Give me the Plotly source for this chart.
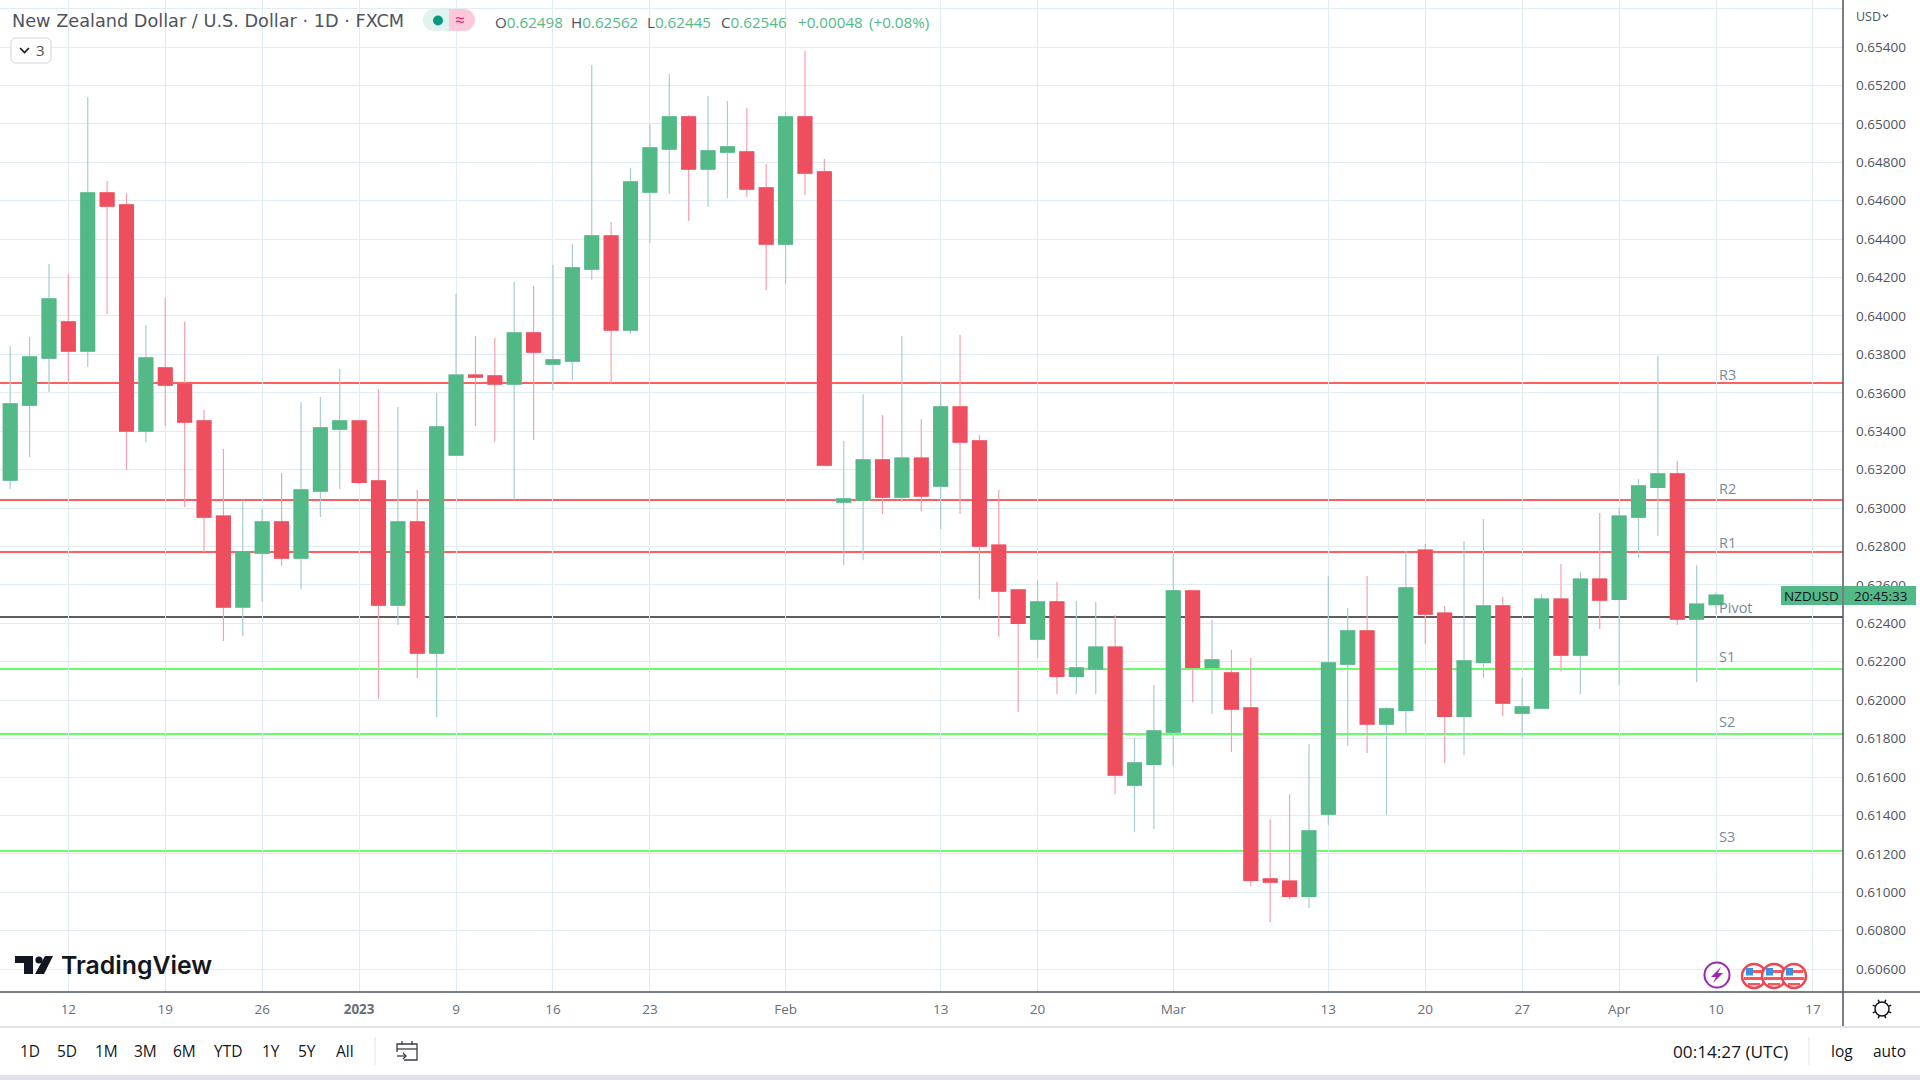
"""NZD/USD daily candles with pivot levels, TradingView style"""
import math
import pandas as pd
import plotly.graph_objects as go

# one row of the chart per weekday, from 7 Dec 2022 to 10 Apr 2023
dates = pd.bdate_range("2022-12-07", "2023-04-10").strftime("%Y-%m-%d").tolist()

opens = [
    0.63146, 0.63536, 0.63781, 0.63968, 0.63817, 0.64640, 0.64578, 0.63401, 0.63729, 0.63646,
    0.63453, 0.62958, 0.62485, 0.62766, 0.62927, 0.62740, 0.63089, 0.63411, 0.63453, 0.63141,
    0.62495, 0.62927, 0.62245, 0.63276, 0.63692, 0.63687, 0.63646, 0.63911, 0.63750, 0.63765,
    0.64244, 0.64416, 0.63927, 0.64645, 0.64869, 0.65036, 0.64765, 0.64853, 0.64853, 0.64666,
    0.64374, 0.65036, 0.64749, 0.63031, 0.63042, 0.63250, 0.63057, 0.63260, 0.63115, 0.63526,
    0.63349, 0.62807, 0.62573, 0.62318, 0.62511, 0.62125, 0.62162, 0.62276, 0.61558, 0.61667,
    0.61834, 0.62568, 0.62172, 0.62141, 0.61959, 0.61069, 0.61058, 0.60980, 0.61407, 0.62188,
    0.62360, 0.61876, 0.61948, 0.62781, 0.62453, 0.61917, 0.62198, 0.62490, 0.61933, 0.61959,
    0.62526, 0.62235, 0.62630, 0.62526, 0.62953, 0.63109, 0.63177, 0.62422, 0.62498,
]
highs = [
    0.63843, 0.63890, 0.64270, 0.64218, 0.65140, 0.64702, 0.64640, 0.63953, 0.64093, 0.63968,
    0.63510, 0.63307, 0.63042, 0.62995, 0.63182, 0.63552, 0.63578, 0.63724, 0.63455, 0.63620,
    0.63526, 0.63094, 0.63599, 0.64114, 0.63896, 0.63885, 0.64177, 0.64156, 0.64265, 0.64374,
    0.65306, 0.64489, 0.64770, 0.64999, 0.65259, 0.65046, 0.65145, 0.65119, 0.65082, 0.64791,
    0.65062, 0.65379, 0.64817, 0.63349, 0.63594, 0.63484, 0.63896, 0.63463, 0.63661, 0.63901,
    0.63380, 0.63094, 0.62573, 0.62625, 0.62615, 0.62516, 0.62511, 0.62443, 0.61803, 0.62079,
    0.62761, 0.62573, 0.62417, 0.62261, 0.62219, 0.61381, 0.61511, 0.61771, 0.62646, 0.62480,
    0.62646, 0.61964, 0.62776, 0.62813, 0.62490, 0.62828, 0.62943, 0.62537, 0.62120, 0.62552,
    0.62709, 0.62667, 0.62974, 0.63000, 0.63151, 0.63791, 0.63245, 0.62703, 0.62562,
]
lows = [
    0.63099, 0.63266, 0.63604, 0.63651, 0.63734, 0.64010, 0.63198, 0.63344, 0.63427, 0.63005,
    0.62771, 0.62308, 0.62334, 0.62511, 0.62698, 0.62578, 0.62953, 0.63099, 0.63125, 0.62006,
    0.62391, 0.62115, 0.61912, 0.63276, 0.63427, 0.63344, 0.63042, 0.63354, 0.63614, 0.63666,
    0.64187, 0.63651, 0.63906, 0.64380, 0.64635, 0.64494, 0.64567, 0.64614, 0.64619, 0.64135,
    0.64166, 0.64630, 0.63224, 0.62703, 0.62729, 0.62969, 0.63031, 0.62984, 0.62891, 0.62969,
    0.62526, 0.62329, 0.61938, 0.62219, 0.62032, 0.62032, 0.62032, 0.61511, 0.61313, 0.61329,
    0.61657, 0.61990, 0.61928, 0.61730, 0.61032, 0.60845, 0.60965, 0.60918, 0.61350, 0.61761,
    0.61725, 0.61402, 0.61829, 0.62292, 0.61673, 0.61714, 0.62115, 0.61917, 0.61808, 0.61954,
    0.62152, 0.62032, 0.62370, 0.62079, 0.62740, 0.62854, 0.62391, 0.62094, 0.62445,
]
closes = [
    0.63542, 0.63786, 0.64088, 0.63817, 0.64640, 0.64572, 0.63401, 0.63781, 0.63640, 0.63448,
    0.62953, 0.62485, 0.62771, 0.62927, 0.62740, 0.63094, 0.63417, 0.63453, 0.63135, 0.62495,
    0.62927, 0.62245, 0.63422, 0.63692, 0.63682, 0.63646, 0.63911, 0.63812, 0.63771, 0.64250,
    0.64416, 0.63927, 0.64697, 0.64874, 0.65036, 0.64765, 0.64859, 0.64879, 0.64661, 0.64374,
    0.65036, 0.64744, 0.63224, 0.63047, 0.63250, 0.63057, 0.63260, 0.63063, 0.63526, 0.63344,
    0.62802, 0.62568, 0.62401, 0.62511, 0.62125, 0.62167, 0.62276, 0.61610, 0.61673, 0.61839,
    0.62568, 0.62172, 0.62209, 0.61954, 0.61063, 0.61053, 0.60980, 0.61319, 0.62193, 0.62360,
    0.61876, 0.61954, 0.62584, 0.62448, 0.61917, 0.62204, 0.62490, 0.61985, 0.61964, 0.62526,
    0.62235, 0.62630, 0.62521, 0.62958, 0.63115, 0.63177, 0.62422, 0.62500, 0.62546,
]

level_names = ["R3", "R2", "R1", "Pivot", "S1", "S2", "S3"]
level_values = [0.63651, 0.63042, 0.62771, 0.62433, 0.62162, 0.61824, 0.61215]

price_ticks = [0.606 + 0.002 * i for i in range(26)]
price_labels = [f"{v:.5f}" if v < 0.655 else "" for v in price_ticks]

date_ticks = ["2022-12-12", "2022-12-19", "2022-12-26", "2023-01-02", "2023-01-09", "2023-01-16",
              "2023-01-23", "2023-02-01", "2023-02-13", "2023-02-20", "2023-03-01", "2023-03-13",
              "2023-03-20", "2023-03-27", "2023-04-03", "2023-04-10", "2023-04-17"]
date_labels = ["12", "19", "26", "<b>2023</b>", "9", "16", "23", "Feb", "13", "20", "Mar", "13",
               "20", "27", "Apr", "10", "17"]

ohlc_letters = ["O", "H", "L", "C"]
ohlc_values = ["0.62498", "0.62562", "0.62445", "0.62546"]
range_buttons = ["1D", "5D", "1M", "3M", "6M", "YTD", "1Y", "5Y", "All"]

W, H = 1920, 1080
FONT = "Open Sans"
GREEN, RED = "#53B987", "#EE4F5F"
TEXT = "#50535E"


def px(x):
    return x / W


def py(y):
    return 1 - y / H


shapes = []
annotations = []


def add_rect(x0, y0, x1, y1, fill, line=None, width=0):
    shapes.append(dict(type="rect", xref="paper", yref="paper", x0=px(x0), x1=px(x1), y0=py(y0), y1=py(y1),
                       fillcolor=fill, line=dict(color=line, width=width), layer="above"))


def add_line(x0, y0, x1, y1, color, width=1):
    shapes.append(dict(type="line", xref="paper", yref="paper", x0=px(x0), x1=px(x1), y0=py(y0), y1=py(y1),
                       line=dict(color=color, width=width), layer="above"))


def add_circle(cx, cy, r, fill, line=None, width=0):
    shapes.append(dict(type="circle", xref="paper", yref="paper", x0=px(cx - r), x1=px(cx + r),
                       y0=py(cy + r), y1=py(cy - r), fillcolor=fill, line=dict(color=line, width=width), layer="above"))


def add_path(points, fill=None, line=None, width=0, close=True):
    d = "M " + " L ".join(f"{px(x):.5f} {py(y):.5f}" for x, y in points) + (" Z" if close else "")
    shapes.append(dict(type="path", xref="paper", yref="paper", path=d, fillcolor=fill or "rgba(0,0,0,0)",
                       line=dict(color=line, width=width), layer="above"))


def add_text(x, y, text, size=15, color=TEXT, anchor="left", font=FONT, weight=None):
    annotations.append(dict(xref="paper", yref="paper", x=px(x), y=py(y), text=text, showarrow=False,
                            xanchor=anchor, yanchor="middle", borderpad=0,
                            font=dict(family=font, size=size, color=color, weight=weight)))


# candles: wicks in the pale colours, bodies drawn over them
fig = go.Figure()
fig.add_trace(go.Candlestick(
    x=dates, open=opens, high=highs, low=lows, close=closes,
    increasing=dict(line=dict(color="#A6CDD0", width=1.2), fillcolor="rgba(0,0,0,0)"),
    decreasing=dict(line=dict(color="#F8A0AE", width=1.2), fillcolor="rgba(0,0,0,0)"),
    hoverinfo="skip", showlegend=False,
))
fig.add_trace(go.Candlestick(
    x=dates, open=opens, close=closes,
    high=[max(o, c) for o, c in zip(opens, closes)],
    low=[min(o, c) for o, c in zip(opens, closes)],
    increasing=dict(line=dict(color=GREEN, width=1.5), fillcolor=GREEN),
    decreasing=dict(line=dict(color=RED, width=1.5), fillcolor=RED),
    hoverinfo="skip", showlegend=False,
))

# pivot levels, under the candles
level_colors = ["#FF5F5F", "#FF5F5F", "#FF5F5F", "#5D5D5D", "#66FF66", "#66FF66", "#66FF66"]
level_shifts = [9, 12, 10, 10, 13, 13, 14]
for name, val, col, shift in zip(level_names, level_values, level_colors, level_shifts):
    shapes.append(dict(type="line", xref="x domain", yref="y", x0=0, x1=1, y0=val, y1=val,
                       line=dict(color=col, width=2), layer="below"))
    annotations.append(dict(xref="paper", yref="y", x=px(1716.5), y=val, yshift=shift, text=name, showarrow=False,
                            xanchor="left", yanchor="middle", font=dict(family=FONT, size=14.5, color="#7B8A9A")))

# header
add_text(11, 21, "New Zealand Dollar / U.S. Dollar · 1D · FXCM", size=17.7, font="DejaVu Sans")
add_rect(449, 9, 464, 31, "#FBC9DA")
add_rect(434, 9, 449, 31, "#E0F3EF")
add_circle(434, 20, 11, "#E0F3EF")
add_circle(464, 20, 11, "#FBC9DA")
add_circle(438, 20.5, 5, "#089981")
add_text(460, 20, "≈", size=17, color="#E91E63", anchor="center")
add_path([(11, 41), (14, 38), (48, 38), (51, 41), (51, 60), (48, 63), (14, 63), (11, 60)], fill="#FFFFFF", line="#D1D4DC", width=1)
add_path([(20, 48), (24.5, 52.5), (29, 48)], line="#131722", width=1.6, close=False)
add_text(35, 50, "3", size=15)

ohlc_x = [494, 570, 646, 720]
for x, letter, val in zip(ohlc_x, ohlc_letters, ohlc_values):
    add_text(x, 22, f'<span style="color:{TEXT}">{letter}</span>{val}', size=15.2, color=GREEN)
add_text(797, 22, "+0.00048", size=15.2, color=GREEN)
add_text(868, 22, "(+0.08%)", size=15.2, color=GREEN)

# logo
add_path([(15, 956), (33, 956), (33, 974), (24, 974), (24, 963), (15, 963)], fill="#131722")
add_circle(39, 960, 3.6, "#131722")
add_path([(45, 956), (53, 956), (44, 974), (35, 974)], fill="#131722")
add_text(60, 965, "TradingView", size=24.8, color="#131722", font="Inter", weight=600)

# axis frames and bottom bar
add_line(0, 992, W, 992, TEXT, 1.5)
add_line(1843, 0, 1843, 1026, TEXT, 1.5)
add_line(0, 1027, W, 1027, "#E0E3EB", 2)
add_rect(0, 1075, W, 1080, "#E0E3EB")
add_line(375, 1037, 375, 1065, "#E0E3EB", 1)
add_line(1809, 1037, 1809, 1065, "#E0E3EB", 1)

button_x = [30, 67, 106, 145, 184, 228, 271, 307, 345]
for x, label in zip(button_x, range_buttons):
    add_text(x, 1051, label, size=15.5, color="#131722", anchor="center")

add_text(1789, 1051, "00:14:27 (UTC)", size=17.2, color="#131722", anchor="right")
add_text(1842, 1051, "log", size=15.5, color="#131722", anchor="center")
add_text(1889, 1051, "auto", size=15.5, color="#131722", anchor="center")

# go-to-date icon
add_path([(404, 1060), (417, 1060), (417, 1044), (397, 1044), (397, 1052)], line="#3A3D45", width=1.3, close=False)
add_line(397, 1049, 417, 1049, "#3A3D45", 1.3)
add_line(402, 1041, 402, 1045, "#3A3D45", 1.3)
add_line(412, 1041, 412, 1045, "#3A3D45", 1.3)
add_line(397, 1056, 406, 1056, "#3A3D45", 1.3)
add_path([(403, 1053), (406, 1056), (403, 1059)], line="#3A3D45", width=1.3, close=False)

# settings gear
add_circle(1882, 1009, 7, "#FFFFFF", "#131722", 1.5)
for k in range(8):
    a = k * math.pi / 4 + math.pi / 8
    add_line(1882 + 7 * math.cos(a), 1009 + 7 * math.sin(a), 1882 + 10 * math.cos(a), 1009 + 10 * math.sin(a), "#131722", 1.5)

# currency switch
add_text(1855, 16, "USD", size=12.5)
add_path([(1883, 14.5), (1885.5, 17), (1888, 14.5)], line=TEXT, width=1.2, close=False)

# last price labels
add_rect(1781, 586, 1842, 605, GREEN)
add_rect(1844, 586, 1916, 605, GREEN)
add_text(1811.5, 595.5, "NZDUSD", size=13.5, color="#131722", anchor="center")
add_text(1880, 595.5, "20:45:33", size=13.5, color="#131722", anchor="center")

# event markers
add_circle(1717, 975, 12.5, "#FFFFFF", "#9C27B0", 2)
add_path([(1721, 967), (1711, 977), (1716, 977), (1713, 983), (1723, 973), (1718, 973)], fill="#9C27B0")
for cx in [1754, 1774, 1794]:
    add_circle(cx, 976, 12, "#FFFFFF", "#F0444F", 2.5)
    add_rect(cx - 3, 970, cx + 9, 973, "#F4565F")
    add_rect(cx - 10, 977, cx + 10, 980, "#F4565F")
    add_rect(cx - 6, 983, cx + 6, 985.5, "#F4565F")
    add_rect(cx - 8, 968, cx - 1, 975.5, "#3D8FE0")

fig.update_layout(
    width=W, height=H,
    margin=dict(t=0, l=0, r=0, b=0),
    paper_bgcolor="#FFFFFF", plot_bgcolor="#FFFFFF",
    boxgroupgap=0,
    shapes=shapes, annotations=annotations,
    font=dict(family=FONT, color=TEXT),
    xaxis=dict(
        domain=[0, 1843 / W], anchor="y",
        type="date", range=["2022-12-06 11:22", "2023-04-18 13:12"],
        rangebreaks=[dict(bounds=["sat", "mon"])],
        rangeslider=dict(visible=False),
        tickmode="array", tickvals=date_ticks, ticktext=date_labels, tickangle=0,
        showgrid=True, gridcolor="#E1ECF2", gridwidth=1.2, zeroline=False, showline=False,
        ticks="", ticklabelstandoff=7, tickfont=dict(family=FONT, size=13.5, color="#6A6D78"),
    ),
    yaxis=dict(
        domain=[88 / H, 1], side="right", anchor="x",
        range=[0.60481, 0.656447],
        tickmode="array", tickvals=price_ticks, ticktext=price_labels,
        showgrid=True, gridcolor="#E1ECF2", gridwidth=1.2, zeroline=False, showline=False,
        ticks="", ticklabelstandoff=12, tickfont=dict(family=FONT, size=13.5, color=TEXT),
    ),
)

# the default body margin would push the whole chart 8px off the window
fig.write_html("out.html", config=dict(displayModeBar=False), post_script="document.body.style.margin='0';")
